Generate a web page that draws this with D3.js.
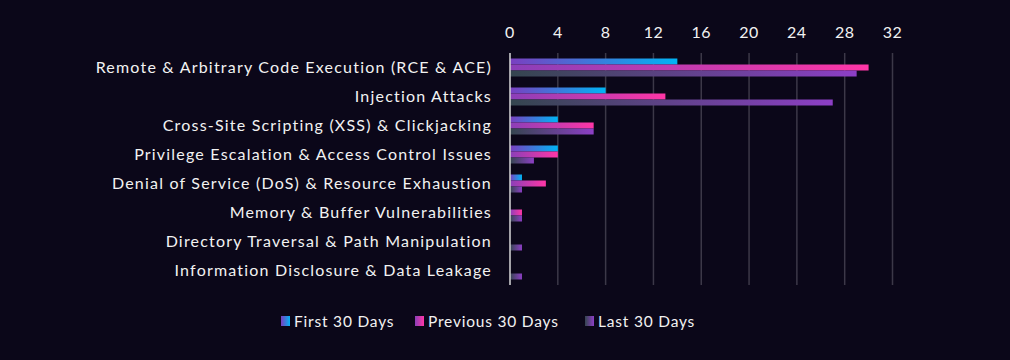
<!DOCTYPE html>
<html>
<head>
<meta charset="utf-8">
<script src="https://cdn.jsdelivr.net/npm/d3@7"></script>
<style>
  body { margin: 0; background: #0b0719; }
  svg text { font-family: "Lato", sans-serif; fill: #f2f2f2; }
</style>
</head>
<body>
<div id="chart"></div>
<script>
var categories = [
  "Remote & Arbitrary Code Execution (RCE & ACE)",
  "Injection Attacks",
  "Cross-Site Scripting (XSS) & Clickjacking",
  "Privilege Escalation & Access Control Issues",
  "Denial of Service (DoS) & Resource Exhaustion",
  "Memory & Buffer Vulnerabilities",
  "Directory Traversal & Path Manipulation",
  "Information Disclosure & Data Leakage"
];
var seriesNames = ["First 30 Days", "Previous 30 Days", "Last 30 Days"];
var first30 = [14, 8, 4, 4, 1, 0, 0, 0];
var previous30 = [30, 13, 7, 4, 3, 1, 0, 0];
var last30 = [29, 27, 7, 2, 1, 1, 1, 1];
var xTicks = [0, 4, 8, 12, 16, 20, 24, 28, 32];

var seriesValues = [first30, previous30, last30];
var gradStops = [["#7a3fc0", "#00b4f5"], ["#8a3fb8", "#ff36a6"], ["#34454f", "#8d3fc6"]];

var svg = d3.select("#chart")
            .append("svg")
            .attr("width", 1010)
            .attr("height", 360);

svg.append("rect").attr("width", 1010).attr("height", 360).attr("fill", "#0b0719");

var defs = svg.append("defs");
gradStops.forEach(function(s, i) {
  var g = defs.append("linearGradient").attr("id", "grad" + i)
    .attr("x1", "0%").attr("x2", "100%").attr("y1", "0%").attr("y2", "0%");
  g.append("stop").attr("offset", "0%").attr("stop-color", s[0]);
  g.append("stop").attr("offset", "100%").attr("stop-color", s[1]);
});

var margin = {top: 53, left: 510, right: 117.5, bottom: 75};
var width = 1010 - margin.left - margin.right,
    height = 360 - margin.top - margin.bottom;

var x = d3.scaleLinear().domain([0, 32]).range([0, width]);
var y = d3.scaleBand().domain(categories).range([0, height]);
var inner = d3.scaleBand().domain(d3.range(3)).range([5.5, 23.5]);

var g = svg.append("g").attr("transform", "translate(" + margin.left + "," + margin.top + ")");

// gridlines
g.selectAll(".grid")
  .data(xTicks.slice(1))
  .enter()
  .append("line")
  .attr("x1", function(d) { return x(d); })
  .attr("x2", function(d) { return x(d); })
  .attr("y1", 0)
  .attr("y2", height)
  .style("stroke", "#3c3848")
  .style("stroke-width", "1.5px");

// top tick labels
g.selectAll(".tick-label")
  .data(xTicks)
  .enter()
  .append("text")
  .attr("x", function(d) { return x(d); })
  .attr("y", -15)
  .attr("text-anchor", "middle")
  .style("font-size", "16px")
  .style("letter-spacing", "0.5px")
  .text(function(d) { return d; });

// bars
seriesValues.forEach(function(vals, si) {
  g.selectAll(".bar" + si)
    .data(vals.map(function(v, i) { return {cat: categories[i], v: v}; }).filter(function(d) { return d.v > 0; }))
    .enter()
    .append("rect")
    .attr("x", x(0))
    .attr("y", function(d) { return y(d.cat) + inner(si); })
    .attr("width", function(d) { return x(d.v) - x(0); })
    .attr("height", inner.bandwidth())
    .attr("fill", "url(#grad" + si + ")");
});

// zero line
g.append("line")
  .attr("x1", x(0)).attr("x2", x(0))
  .attr("y1", 0).attr("y2", height)
  .style("stroke", "#d9d9d9")
  .style("stroke-width", "1.5px");

// category labels
g.selectAll(".cat-label")
  .data(categories)
  .enter()
  .append("text")
  .attr("x", -18)
  .attr("y", function(d) { return y(d) + y.bandwidth() / 2 + 5; })
  .attr("text-anchor", "end")
  .style("font-size", "16px")
  .style("letter-spacing", "1.2px")
  .text(function(d) { return d; });

// legend
var legendX = [281, 415, 585];
var legend = svg.selectAll(".legend")
  .data(seriesNames)
  .enter()
  .append("g")
  .attr("transform", function(d, i) { return "translate(" + legendX[i] + ",321)"; });

legend.append("rect")
  .attr("x", 0).attr("y", -5)
  .attr("width", 9).attr("height", 10)
  .attr("fill", function(d, i) { return "url(#grad" + i + ")"; });

legend.append("text")
  .attr("x", 13)
  .attr("y", 5.5)
  .style("font-size", "15.5px")
  .style("letter-spacing", "0.8px")
  .text(function(d) { return d; });
</script>
</body>
</html>
